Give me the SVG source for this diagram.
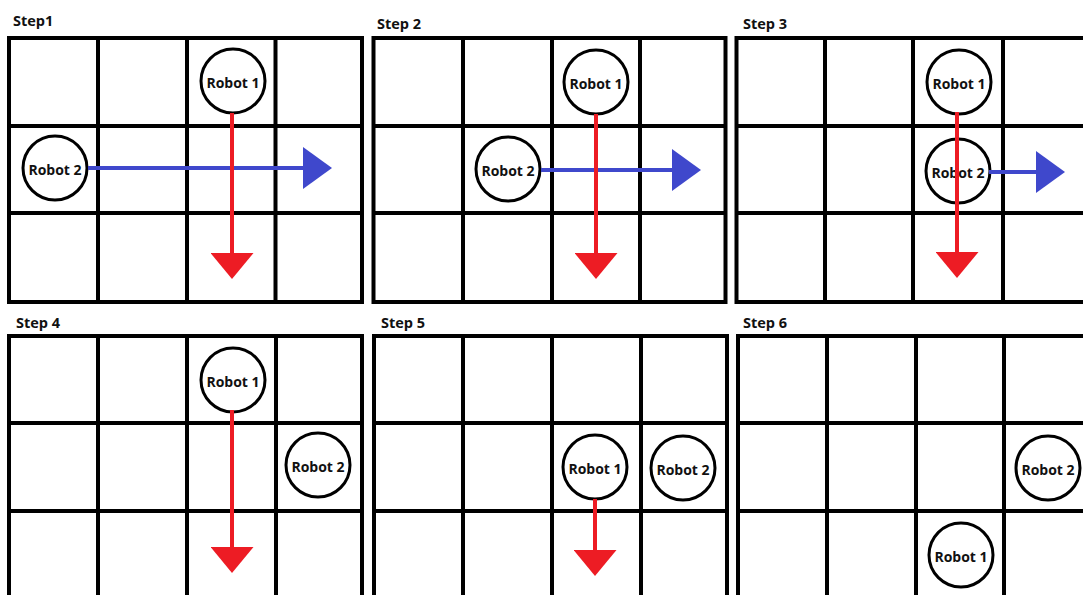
<svg xmlns="http://www.w3.org/2000/svg" width="1083" height="595" viewBox="0 0 1083 595">
<style>
.bg{fill:#ffffff}
.grid{fill:none;stroke:#000;stroke-width:4}
.title{font-family:"Open Sans","Noto Sans",sans-serif;font-weight:700;font-size:14.5px;fill:#111}
.robot circle{fill:#fff;stroke:#000;stroke-width:3}
.robot text{font-family:"Open Sans","Noto Sans",sans-serif;font-weight:700;font-size:14px;fill:#111;text-anchor:middle}
.red{stroke:#ED1C24;stroke-width:4;fill:none;marker-end:url(#ahRed)}
.blue{stroke:#3F48CC;stroke-width:4;fill:none;marker-end:url(#ahBlue)}
</style>
<defs>
<marker id="ahRed" markerUnits="userSpaceOnUse" viewBox="0 0 26 43" markerWidth="26" markerHeight="43" refX="0" refY="21.5" orient="auto">
<path d="M0,0 L26,21.5 L0,43 Z" fill="#ED1C24"/>
</marker>
<marker id="ahBlue" markerUnits="userSpaceOnUse" viewBox="0 0 29 42" markerWidth="29" markerHeight="42" refX="0" refY="21" orient="auto">
<path d="M0,0 L29,21 L0,42 Z" fill="#3F48CC"/>
</marker>
</defs>
<rect class="bg" x="0" y="0" width="1083" height="595"/>

<g id="panel-step1">
<text class="title" x="13" y="26">Step1</text>
<rect class="grid" x="9" y="38" width="353" height="264"/>
<path class="grid" d="M98,38V302M187,38V302M275.5,38V302M9,126H362M9,213H362"/>
</g>
<g id="panel-step2">
<text class="title" x="377" y="29">Step 2</text>
<rect class="grid" x="373.5" y="38" width="352" height="264"/>
<path class="grid" d="M463,38V302M552,38V302M640,38V302M373.5,126H725.5M373.5,213H725.5"/>
</g>
<g id="panel-step3">
<text class="title" x="743" y="29">Step 3</text>
<rect class="grid" x="736.5" y="38" width="354" height="264"/>
<path class="grid" d="M825,38V302M913,38V302M1003,38V302M736.5,126H1091M736.5,213H1091"/>
</g>
<g id="panel-step4">
<text class="title" x="16" y="328">Step 4</text>
<rect class="grid" x="9" y="336" width="353" height="263"/>
<path class="grid" d="M98,336V599M187,336V599M276,336V599M9,423H362M9,511H362"/>
</g>
<g id="panel-step5">
<text class="title" x="381" y="328">Step 5</text>
<rect class="grid" x="374" y="336" width="353" height="263"/>
<path class="grid" d="M463,336V599M552,336V599M641,336V599M374,423H727M374,511H727"/>
</g>
<g id="panel-step6">
<text class="title" x="743" y="328">Step 6</text>
<rect class="grid" x="738" y="336" width="354" height="263"/>
<path class="grid" d="M827,336V599M916,336V599M1004,336V599M738,423H1092M738,511H1092"/>
</g>

<g id="s1-robot1" class="robot"><circle cx="233" cy="81" r="32"/><text x="233" y="88">Robot 1</text></g>
<g id="s1-robot2" class="robot"><circle cx="55" cy="168" r="32"/><text x="55" y="175">Robot 2</text></g>
<g id="s2-robot1" class="robot"><circle cx="596" cy="82" r="32"/><text x="596" y="89">Robot 1</text></g>
<g id="s2-robot2" class="robot"><circle cx="508" cy="169" r="32"/><text x="508" y="176">Robot 2</text></g>
<g id="s3-robot1" class="robot"><circle cx="959" cy="82" r="32"/><text x="959" y="89">Robot 1</text></g>
<g id="s3-robot2" class="robot"><circle cx="958" cy="171" r="32"/><text x="958" y="178">Robot 2</text></g>
<g id="s4-robot1" class="robot"><circle cx="233" cy="380" r="32"/><text x="233" y="387">Robot 1</text></g>
<g id="s4-robot2" class="robot"><circle cx="318" cy="465" r="32"/><text x="318" y="472">Robot 2</text></g>
<g id="s5-robot1" class="robot"><circle cx="595" cy="467" r="32"/><text x="595" y="474">Robot 1</text></g>
<g id="s5-robot2" class="robot"><circle cx="683" cy="468" r="32"/><text x="683" y="475">Robot 2</text></g>
<g id="s6-robot2" class="robot"><circle cx="1048" cy="468" r="32"/><text x="1048" y="475">Robot 2</text></g>
<g id="s6-robot1" class="robot"><circle cx="961" cy="555" r="32"/><text x="961" y="562">Robot 1</text></g>

<g id="connectors">
<path class="blue" d="M88,168H303"/>
<path class="red" d="M232,113V253"/>
<path class="blue" d="M541,170H672"/>
<path class="red" d="M596,114V253"/>
<path class="blue" d="M989,172H1036"/>
<path class="red" d="M957,112V252"/>
<path class="red" d="M232,410V547"/>
<path class="red" d="M595,499V550"/>
</g>
</svg>
